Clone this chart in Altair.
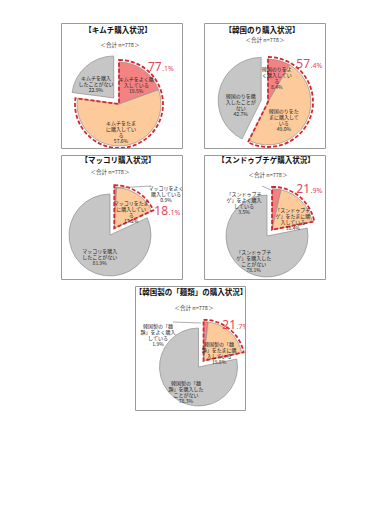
import math
import altair as alt
import pandas as pd

# ---------------- data ----------------
TITLES = [
    "【キムチ購入状況】",
    "【韓国のり購入状況】",
    "【マッコリ購入状況】",
    "【スンドゥブチゲ購入状況】",
    "【韓国製の「麺類」の購入状況】",
]
N_LABEL = "＜合計 n=778＞"
CATS = ["often", "sometimes", "never"]

VALUES = [
    [19.5, 57.6, 22.9],
    [8.4, 49.0, 42.7],
    [0.9, 17.2, 81.9],
    [3.5, 18.4, 78.1],
    [1.9, 19.8, 78.3],
]
SLICE_LABELS = [
    ["キムチをよく購\n入している", "キムチをたま\nに購入してい\nる", "キムチを購入\nしたことがない"],
    ["韓国のりをよ\nく購入してい\nる", "韓国のりをた\nまに購入して\nいる", "韓国のりを購\n入したことが\nない"],
    ["マッコリをよく\n購入している", "マッコリをたま\nに購入してい\nる", "マッコリを購入\nしたことがない"],
    ["「スンドゥブチ\nゲ」をよく購入\nしている", "「スンドゥブチ\nゲ」をたまに購\n入している", "「スンドゥブチ\nゲ」を購入した\nことがない"],
    ["韓国製の「麺\n類」をよく購入\nしている", "韓国製の「麺\n類」をたまに購\n入している", "韓国製の「麺\n類」を購入した\nことがない"],
]
HIGHLIGHT_BIG = ["77", "57", "18", "21", "21"]
HIGHLIGHT_SMALL = [".1%", ".4%", ".1%", " .9%", " .7%"]

# ---------------- style ----------------
COLORS = ["#F58282", "#FDCB9B", "#C6C6C6"]
RED = "#D8262F"
PCT_RED = "#E2475A"
FONT = "Noto Sans CJK JP"

STYLE = [
    dict(w=121, h=125, cx=58, cy=81, r=42, explode="rest", d=8, tx=57, ty=8, nx=59, ny=22,
         px=100.7, py=48, lr=[30, 19, 27], outside=None),
    dict(w=121, h=125, cx=64, cy=79, r=43, explode="rest", d=7, tx=58, ty=8, nx=61, ny=17,
         px=106, py=45, lr=[34, 18, 21], outside=None),
    dict(w=121, h=124, cx=49, cy=80, r=41, explode="hl", d=8, tx=57, ty=6, nx=49, ny=17,
         px=107, py=60, lr=[0, 30, 19], outside=dict(x=105, y=33, lx1=90, ly1=31, lx2=54, ly2=33)),
    dict(w=121, h=124, cx=63, cy=81, r=41, explode="hl", d=8, tx=62, ty=6, nx=64, ny=20,
         px=106, py=38, lr=[0, 29, 21], outside=dict(x=40, y=39, lx1=58, ly1=31, lx2=67, ly2=35)),
    dict(w=110, h=124, cx=63.5, cy=81, r=39, explode="hl", d=8, tx=56, ty=7, nx=59, ny=22,
         px=101, py=43, lr=[0, 23, 20], outside=dict(x=23, y=40, lx1=38, ly1=36, lx2=66, ly2=37)),
]


def one(text):
    return pd.DataFrame({"t": [text]})


def panel(i):
    st = STYLE[i]
    vals = VALUES[i]
    df = pd.DataFrame({
        "cat": CATS,
        "order": [0, 1, 2],
        "value": vals,
        "label": [f"{l}\n{v:.1f}%" for l, v in zip(SLICE_LABELS[i], vals)],
    })
    lr = st["lr"]
    base = (
        alt.Chart(df)
        .transform_window(cum="sum(value)", sort=[alt.SortField("order")], frame=[None, 0])
        .transform_joinaggregate(total="sum(value)")
        .transform_calculate(
            t0="(datum.cum - datum.value) / datum.total",
            t1="datum.cum / datum.total",
            grp="datum.cat == 'never' ? 'rest' : 'hl'",
        )
        .transform_joinaggregate(g0="min(t0)", g1="max(t1)", groupby=["grp"])
        .transform_calculate(
            gmid="PI * (datum.g0 + datum.g1)",
            mid="PI * (datum.t0 + datum.t1)",
            ex=f"datum.grp == '{st['explode']}' ? {st['d']} : 0",
        )
        .transform_calculate(
            pxc=f"{st['cx']} + datum.ex * sin(datum.gmid)",
            pyc=f"{st['cy']} - datum.ex * cos(datum.gmid)",
            lrad=f"datum.order == 0 ? {lr[0]} : (datum.order == 1 ? {lr[1]} : {lr[2]})",
        )
        .transform_calculate(
            lx="datum.pxc + datum.lrad * sin(datum.mid)",
            ly="datum.pyc - datum.lrad * cos(datum.mid)",
        )
    )
    xenc = alt.X("pxc:Q", scale=None, axis=None)
    yenc = alt.Y("pyc:Q", scale=None, axis=None)
    tscale = alt.Scale(domain=[0, 1])

    arcs = base.mark_arc(radius=st["r"], stroke="#8f8f8f", strokeWidth=0.7, clip=True).encode(
        x=xenc, y=yenc,
        theta=alt.Theta("t0:Q", scale=tscale, stack=False),
        theta2="t1:Q",
        color=alt.Color("cat:N", scale=alt.Scale(domain=CATS, range=COLORS), legend=None),
    )
    outline = base.transform_filter("datum.cat == 'often'").mark_arc(
        radius=st["r"] + 2, fillOpacity=0, stroke=RED, strokeWidth=1.8, strokeDash=[4, 2], clip=True
    ).encode(
        x=xenc, y=yenc,
        theta=alt.Theta("g0:Q", scale=tscale, stack=False),
        theta2="g1:Q",
    )
    inside_filter = "datum.cat != 'often'" if st["outside"] else "true"
    labels = base.transform_filter(inside_filter).mark_text(
        font=FONT, fontSize=5, lineHeight=6, lineBreak="\n", color="#222", clip=True
    ).encode(
        x=alt.X("lx:Q", scale=None, axis=None),
        y=alt.Y("ly:Q", scale=None, axis=None),
        text="label:N",
    )
    title = alt.Chart(one(TITLES[i])).mark_text(
        font=FONT, fontSize=7.5, fontWeight="bold", color="#111", clip=True
    ).encode(x=alt.value(st["tx"]), y=alt.value(st["ty"]), text="t:N")
    nlab = alt.Chart(one(N_LABEL)).mark_text(font=FONT, fontSize=5.5, color="#333", clip=True).encode(
        x=alt.value(st["nx"]), y=alt.value(st["ny"]), text="t:N"
    )
    big = alt.Chart(one(HIGHLIGHT_BIG[i])).mark_text(
        font="Noto Sans", fontSize=12, color=PCT_RED, align="right", baseline="alphabetic", clip=True
    ).encode(x=alt.value(st["px"]), y=alt.value(st["py"]), text="t:N")
    small = alt.Chart(one(HIGHLIGHT_SMALL[i])).mark_text(
        font="Noto Sans", fontSize=7, color=PCT_RED, align="left", baseline="alphabetic", dx=0.5, clip=True
    ).encode(x=alt.value(st["px"]), y=alt.value(st["py"]), text="t:N")

    layers = [arcs, outline, labels, title, nlab, big, small]
    if st["outside"]:
        o = st["outside"]
        layers.append(
            base.transform_filter("datum.cat == 'often'").mark_text(
                font=FONT, fontSize=5, lineHeight=6, lineBreak="\n", color="#222", clip=True
            ).encode(x=alt.value(o["x"]), y=alt.value(o["y"]), text="label:N")
        )
        layers.append(
            alt.Chart(one("")).mark_rule(color="#777", strokeWidth=0.6, clip=True).encode(
                x=alt.value(o["lx1"]), y=alt.value(o["ly1"]),
                x2=alt.value(o["lx2"]), y2=alt.value(o["ly2"]),
            )
        )
    return alt.layer(*layers).properties(width=st["w"], height=st["h"])


spacer = alt.Chart(one("")).mark_point(opacity=0, clip=True).encode(
    x=alt.value(26), y=alt.value(62)
).properties(width=52, height=124, view=alt.ViewBackground(stroke="transparent"))

chart = alt.vconcat(
    alt.hconcat(panel(0), panel(1), spacing=20),
    alt.hconcat(panel(2), panel(3), spacing=20),
    alt.hconcat(spacer, panel(4), spacing=20),
    spacing=5,
).properties(
    padding={"left": 52, "top": 14, "right": 4, "bottom": 4},
    background="white",
).configure_view(stroke="#9a9a9a", strokeWidth=1)

chart.save("out.html", embed_options={"renderer": "svg", "actions": False})
